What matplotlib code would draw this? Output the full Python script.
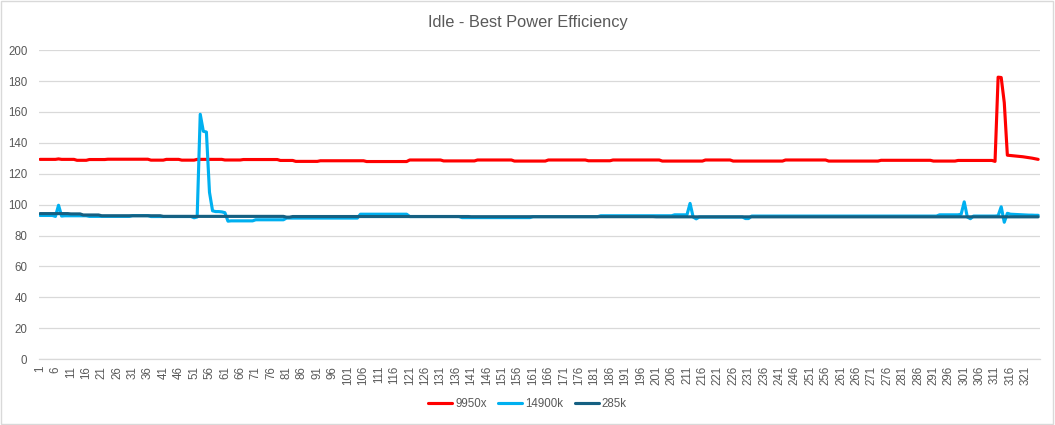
import matplotlib
matplotlib.use("Agg")
import matplotlib.pyplot as plt
from matplotlib.patches import Rectangle
import numpy as np

plt.rcParams['font.family'] = ['Liberation Sans', 'DejaVu Sans']

# valores (muestras 1..325)
cpu_9950x = [
    129.3, 129.3, 129.3, 129.3, 129.3, 129.3, 129.6, 129.3, 129.3, 129.3, 129.3, 129.3,
    128.7, 128.7, 128.7, 128.7,
    129.2, 129.2, 129.2, 129.2, 129.2, 129.2,
    129.4, 129.4, 129.4, 129.4, 129.4, 129.4, 129.4, 129.4, 129.4, 129.4, 129.4, 129.4, 129.4, 129.4,
    128.8, 128.8, 128.8, 128.8, 128.8, 129.3, 129.3, 129.3, 129.3, 129.3, 128.8, 128.8, 128.8, 128.8, 128.8,
    129.3, 129.3, 129.3, 129.3, 129.3, 129.3, 129.3, 129.3, 129.3, 128.9, 128.9, 128.9, 128.9, 128.9, 128.9,
    129.2, 129.2, 129.2, 129.2, 129.2, 129.2, 129.2, 129.2, 129.2, 129.2, 129.2, 129.2, 128.6, 128.6, 128.6, 128.6, 128.6,
    128.0, 128.0, 128.0, 128.0, 128.0, 128.0, 128.0, 128.0,
    128.4, 128.4, 128.4, 128.4, 128.4, 128.4, 128.4, 128.4, 128.4, 128.4, 128.4, 128.4, 128.4, 128.4, 128.4,
    127.9, 127.9, 127.9, 127.9, 127.9, 127.9, 127.9, 127.9, 127.9, 127.9, 127.9, 127.9, 127.9, 127.9,
    128.9, 128.9, 128.9, 128.9, 128.9, 128.9, 128.9, 128.9, 128.9, 128.9, 128.9,
    128.3, 128.3, 128.3, 128.3, 128.3, 128.3, 128.3, 128.3, 128.3, 128.3, 128.3,
    128.9, 128.9, 128.9, 128.9, 128.9, 128.9, 128.9, 128.9, 128.9, 128.9, 128.9, 128.9,
    128.2, 128.2, 128.2, 128.2, 128.2, 128.2, 128.2, 128.2, 128.2, 128.2, 128.2,
    128.9, 128.9, 128.9, 128.9, 128.9, 128.9, 128.9, 128.9, 128.9, 128.9, 128.9, 128.9, 128.9,
    128.4, 128.4, 128.4, 128.4, 128.4, 128.4, 128.4, 128.4,
    128.9, 128.9, 128.9, 128.9, 128.9, 128.9, 128.9, 128.9, 128.9, 128.9, 128.9, 128.9, 128.9, 128.9, 128.9, 128.9,
    128.2, 128.2, 128.2, 128.2, 128.2, 128.2, 128.2, 128.2, 128.2, 128.2, 128.2, 128.2, 128.2, 128.2,
    128.9, 128.9, 128.9, 128.9, 128.9, 128.9, 128.9, 128.9, 128.9,
    128.2, 128.2, 128.2, 128.2, 128.2, 128.2, 128.2, 128.2, 128.2, 128.2, 128.2, 128.2, 128.2, 128.2, 128.2, 128.2, 128.2,
    128.9, 128.9, 128.9, 128.9, 128.9, 128.9, 128.9, 128.9, 128.9, 128.9, 128.9, 128.9, 128.9, 128.9,
    128.2, 128.2, 128.2, 128.2, 128.2, 128.2, 128.2, 128.2, 128.2, 128.2, 128.2, 128.2, 128.2, 128.2, 128.2, 128.2, 128.2,
    128.7, 128.7, 128.7, 128.7, 128.7, 128.7, 128.7, 128.7, 128.7, 128.7, 128.7, 128.7, 128.7, 128.7, 128.7, 128.7, 128.7,
    128.2, 128.2, 128.2, 128.2, 128.2, 128.2, 128.2, 128.2,
    128.6, 128.6, 128.6, 128.6, 128.6, 128.6, 128.6, 128.6, 128.6, 128.6, 128.6, 128.6,
    128.0, 182.5, 182.3, 166.0, 132.0, 131.8, 131.6, 131.4, 131.2, 131.0, 130.7, 130.4, 130.1, 129.7, 129.3,
]

cpu_14900k = [
    93.0, 93.0, 93.0, 93.0, 93.0, 92.4, 99.6, 92.6,
    92.8, 92.8, 92.8, 92.8, 92.8, 92.8, 92.8, 92.8,
    92.4, 92.4, 92.4, 92.4, 92.4, 92.4, 92.4, 92.4, 92.4, 92.4, 92.4, 92.4, 92.4, 92.4,
    92.9, 92.9, 92.9, 92.9, 92.9, 92.9,
    92.3, 92.3, 92.3, 92.3, 92.3, 92.3, 92.3, 92.3, 92.3, 92.3, 92.3, 92.3, 92.3, 92.3,
    91.5, 92.0, 158.5, 147.5, 147.0, 108.0, 96.0, 95.5, 95.5, 95.3, 94.8, 89.3,
    89.5, 89.5, 89.5, 89.5, 89.5, 89.5, 89.5, 89.5,
    90.2, 90.2, 90.2, 90.2, 90.2, 90.2, 90.2, 90.2, 90.2, 90.2,
    91.3, 91.3, 91.3, 91.3, 91.3, 91.3, 91.3, 91.3, 91.3, 91.3, 91.3, 91.3,
    91.3, 91.3, 91.3, 91.3, 91.3, 91.3, 91.3, 91.3, 91.3, 91.3, 91.3, 91.3,
    93.8, 93.8, 93.8, 93.8, 93.8, 93.8, 93.8, 93.8, 93.8, 93.8, 93.8, 93.8, 93.8, 93.8, 93.8, 93.8,
    92.3, 92.3, 92.3, 92.3, 92.3, 92.3, 92.3, 92.3, 92.3, 92.3, 92.3, 92.3, 92.3, 92.3, 92.3, 92.3, 92.3,
    91.6, 91.6, 91.6, 91.6, 91.6, 91.6, 91.6, 91.6, 91.6, 91.6, 91.6, 91.6,
    91.6, 91.6, 91.6, 91.6, 91.6, 91.6, 91.6, 91.6, 91.6, 91.6, 91.6,
    92.2, 92.2, 92.2, 92.2, 92.2, 92.2, 92.2, 92.2, 92.2, 92.2, 92.2,
    92.2, 92.2, 92.2, 92.2, 92.2, 92.2, 92.2, 92.2, 92.2, 92.2, 92.2,
    92.8, 92.8, 92.8, 92.8, 92.8, 92.8, 92.8, 92.8, 92.8, 92.8, 92.8, 92.8,
    92.8, 92.8, 92.8, 92.8, 92.8, 92.8, 92.8, 92.8, 92.8, 92.8, 92.8, 92.8,
    93.4, 93.4, 93.4, 93.4, 93.4, 100.8, 92.0, 90.8,
    92.0, 92.0, 92.0, 92.0, 92.0, 92.0, 92.0, 92.0, 92.0, 92.0, 92.0, 92.0, 92.0, 92.0, 92.0,
    91.0, 91.0,
    92.6, 92.6, 92.6, 92.6, 92.6, 92.6, 92.6, 92.6, 92.6, 92.6, 92.6, 92.6, 92.6, 92.6, 92.6, 92.6, 92.6, 92.6, 92.6, 92.6,
    92.6, 92.6, 92.6, 92.6, 92.6, 92.6, 92.6, 92.6, 92.6, 92.6, 92.6, 92.6, 92.6, 92.6, 92.6, 92.6, 92.6, 92.6, 92.6, 92.6,
    92.6, 92.6, 92.6, 92.6, 92.6, 92.6, 92.6, 92.6, 92.6, 92.6, 92.6, 92.6, 92.6, 92.6, 92.6, 92.6, 92.6, 92.6, 92.6, 92.6,
    92.6,
    93.4, 93.4, 93.4, 93.4, 93.4, 93.4, 93.4, 93.8, 101.8, 92.0, 90.9,
    92.6, 92.6, 92.6, 92.6, 92.6, 92.6, 92.6, 92.6,
    92.8, 98.6, 88.6, 94.4,
    93.8, 93.7, 93.6, 93.5, 93.4, 93.3, 93.2, 93.2, 93.1, 93.1,
]

cpu_285k = [
    94.2, 94.2, 94.2, 94.2, 94.2, 94.2, 94.2, 94.2, 94.2, 94.2,
    94.0, 94.0, 94.0, 94.0,
    93.3, 93.3, 93.3, 93.3, 93.3, 93.3,
    92.8, 92.8, 92.8, 92.8, 92.8, 92.8, 92.8, 92.8, 92.8, 92.8, 92.8, 92.8, 92.8, 92.8, 92.8, 92.8, 92.8, 92.8, 92.8, 92.8,
    92.4, 92.4, 92.4, 92.4, 92.4, 92.4, 92.4, 92.4, 92.4, 92.4, 92.4, 92.4, 92.4, 92.4, 92.4, 92.4, 92.4, 92.4, 92.4, 92.4,
    92.4, 92.4, 92.4, 92.4, 92.4, 92.4, 92.4, 92.4, 92.4, 92.4, 92.4, 92.4, 92.4, 92.4, 92.4, 92.4, 92.4, 92.4, 92.4, 92.4,
    91.9, 91.9,
    92.3, 92.3, 92.3, 92.3, 92.3, 92.3, 92.3, 92.3, 92.3, 92.3, 92.3, 92.3, 92.3, 92.3, 92.3, 92.3, 92.3, 92.3, 92.3, 92.3,
    92.3, 92.3, 92.3, 92.3, 92.3, 92.3, 92.3, 92.3, 92.3, 92.3, 92.3, 92.3, 92.3, 92.3, 92.3, 92.3, 92.3, 92.3, 92.3, 92.3,
    92.3, 92.3, 92.3, 92.3, 92.3, 92.3, 92.3, 92.3, 92.3, 92.3, 92.3, 92.3, 92.3, 92.3, 92.3, 92.3, 92.3, 92.3,
    92.2, 92.2, 92.2, 92.2, 92.2, 92.2, 92.2, 92.2, 92.2, 92.2, 92.2, 92.2, 92.2, 92.2, 92.2, 92.2, 92.2, 92.2, 92.2, 92.2,
    92.2, 92.2, 92.2, 92.2, 92.2, 92.2, 92.2, 92.2, 92.2, 92.2, 92.2, 92.2, 92.2, 92.2, 92.2, 92.2, 92.2, 92.2, 92.2, 92.2,
    92.2, 92.2, 92.2, 92.2, 92.2, 92.2, 92.2, 92.2, 92.2, 92.2, 92.2, 92.2, 92.2, 92.2, 92.2, 92.2, 92.2, 92.2, 92.2, 92.2,
    92.1, 92.1, 92.1, 92.1, 92.1, 92.1, 92.1, 92.1, 92.1, 92.1, 92.1, 92.1, 92.1, 92.1, 92.1, 92.1, 92.1, 92.1, 92.1, 92.1,
    92.1, 92.1, 92.1, 92.1, 92.1, 92.1, 92.1, 92.1, 92.1, 92.1, 92.1, 92.1, 92.1, 92.1, 92.1, 92.1, 92.1, 92.1, 92.1, 92.1,
    92.1, 92.1, 92.1, 92.1, 92.1, 92.1, 92.1, 92.1, 92.1, 92.1, 92.1, 92.1, 92.1, 92.1, 92.1, 92.1, 92.1, 92.1, 92.1, 92.1,
    92.1, 92.1, 92.1, 92.1, 92.1, 92.1, 92.1, 92.1, 92.1, 92.1, 92.1, 92.1, 92.1, 92.1, 92.1, 92.1, 92.1, 92.1, 92.1, 92.1,
    92.1, 92.1, 92.1, 92.1, 92.1, 92.1, 92.1, 92.1, 92.1, 92.1, 92.1, 92.1, 92.1, 92.1, 92.1, 92.1, 92.1, 92.1, 92.1, 92.1,
    92.1, 92.1, 92.1, 92.1, 92.1, 92.1, 92.1, 92.1, 92.1, 92.1, 92.1, 92.1, 92.1, 92.1, 92.1, 92.1, 92.1, 92.1, 92.1, 92.1,
    92.1, 92.1, 92.1, 92.1, 92.1,
]

series_names = ['9950x', '14900k', '285k']
series_colors = ['#FF0000', '#00B0F0', '#156082']
text_color = '#595959'
grid_color = '#D9D9D9'

fig = plt.figure(figsize=(10.55, 4.25), dpi=100)
ax = fig.add_axes([0.0365, 0.155, 0.949, 0.727])

for vals, name, col in zip([cpu_9950x, cpu_14900k, cpu_285k], series_names, series_colors):
    x = np.arange(1, len(vals) + 1)
    ax.plot(x, vals, color=col, lw=2.25, label=name, solid_joinstyle='round', solid_capstyle='round')

n = max(len(cpu_9950x), len(cpu_14900k), len(cpu_285k))
ax.set_xlim(0.5, n + 0.5)
ax.set_ylim(0, 200)
ax.set_yticks(range(0, 201, 20))
ax.set_xticks(range(1, n + 1, 5))
ax.set_xticklabels([str(v) for v in range(1, n + 1, 5)], rotation=90)

ax.grid(axis='y', color=grid_color, lw=0.9)
ax.set_axisbelow(True)
for s in ['top', 'right', 'left']:
    ax.spines[s].set_visible(False)
ax.spines['bottom'].set_color(grid_color)
ax.spines['bottom'].set_linewidth(0.9)
ax.tick_params(axis='both', length=0, labelsize=8.3, colors=text_color)
ax.tick_params(axis='y', pad=8)
ax.tick_params(axis='x', pad=5)

fig.text(0.5, 0.948, 'Idle - Best Power Efficiency', ha='center', va='center',
         fontsize=11.8, color=text_color)

fig.legend(loc='center', bbox_to_anchor=(0.5, 0.049), ncol=3, frameon=False,
           fontsize=8.3, labelcolor=text_color, handlelength=2.1, handletextpad=0.25,
           columnspacing=1.0)

fig.patches.append(Rectangle((0.001, 0.002), 0.997, 0.995, transform=fig.transFigure,
                             fill=False, edgecolor=grid_color, lw=1))

fig.savefig('out.png', dpi=100)
